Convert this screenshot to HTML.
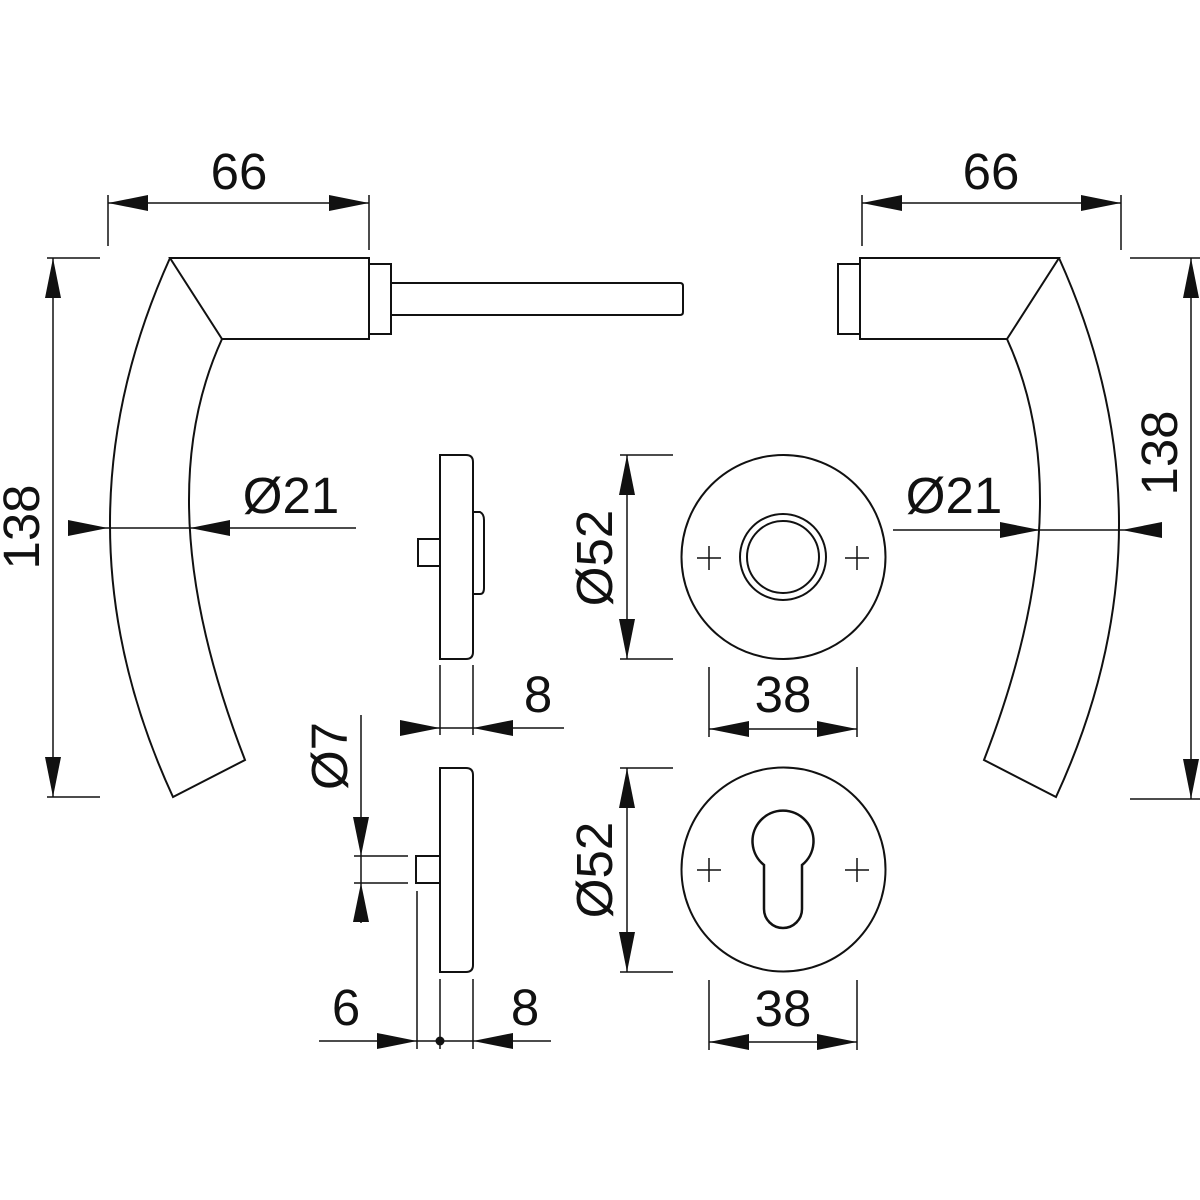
<!DOCTYPE html>
<html><head><meta charset="utf-8"><style>
html,body{margin:0;padding:0;background:#fff;}
svg{display:block;}
text{font-family:"Liberation Sans",sans-serif;font-size:51px;fill:#111;}
</style></head><body>
<svg width="1200" height="1200" viewBox="0 0 1200 1200" xmlns="http://www.w3.org/2000/svg">
<defs>
<g id="handle" fill="none" stroke="#111" stroke-width="2">
  <path d="M170,258 L369,258 L369,339 L222,339 Z" fill="none"/>
  <path d="M170,258 Q48.5,527 173,797 L245,760 Q146,505 222,339"/>
  <rect x="369" y="264" width="22" height="70"/>
</g>
</defs>
<g fill="none" stroke="#111" stroke-width="2">
<use href="#handle"/>
<use href="#handle" transform="translate(1229,0) scale(-1,1)"/>
<path d="M391,283 L680,283 Q683,283 683,286 L683,312 Q683,315 680,315 L391,315"/>
<path d="M440,455 L466,455 Q473,455 473,462 L473,652 Q473,659 466,659 L440,659 Z"/>
<path d="M473,512 L480,512 Q484,514 484,520 L484,588 Q484,594 480,594 L473,594"/>
<path d="M439,539 L418,539 L418,566 L439,566"/>
<path d="M440,768 L466,768 Q473,768 473,775 L473,965 Q473,972 466,972 L440,972 Z"/>
<path d="M440,856 L416,856 L416,883 L440,883"/>
<circle cx="783.5" cy="557" r="102"/>
<circle cx="783" cy="557" r="43"/>
<circle cx="783" cy="557" r="36"/>
<circle cx="783.5" cy="869.5" r="102"/>
<path d="M764,880 L764,865 A30.5,30.5 0 1 1 802,865 L802,909 A19,19 0 0 1 764,909 Z" stroke-width="2.5"/>
</g>
<g stroke="#111" stroke-width="1.5" fill="none">
<path d="M697,558 H721 M709,546 V570 M845,558 H869 M857,546 V570"/>
<path d="M697,870 H721 M709,858 V882 M845,870 H869 M857,858 V882"/>
<path d="M108,195 V246 M369,195 V250 M108,203 H369"/>
<path d="M862,195 V246 M1121,195 V250 M862,203 H1121"/>
<path d="M47,258 H100 M47,797 H100 M53,258 V797"/>
<path d="M1130,258 H1200 M1130,799 H1200 M1191,258 V799"/>
<path d="M68,528 H356"/>
<path d="M893,530 H1162"/>
<path d="M620,455 H673 M620,659 H673 M627,455 V659"/>
<path d="M620,768 H673 M620,972 H673 M627,768 V972"/>
<path d="M709,667 V737 M857,667 V737 M709,729 H857"/>
<path d="M709,980 V1050 M857,980 V1050 M709,1042 H857"/>
<path d="M440,665 V735 M473,665 V735 M400,728 H564"/>
<path d="M361,715 V923 M354,856 H408 M354,883 H408"/>
<path d="M417,891 V1049 M440,979 V1049 M473,979 V1049 M319,1041 H551"/>
</g>
<g fill="#111" stroke="none">
<polygon points="108,203 148,195 148,211"/><polygon points="369,203 329,195 329,211"/>
<polygon points="862,203 902,195 902,211"/><polygon points="1121,203 1081,195 1081,211"/>
<polygon points="53,258 45,298 61,298"/><polygon points="53,797 45,757 61,757"/>
<polygon points="1191,258 1183,298 1199,298"/><polygon points="1191,799 1183,759 1199,759"/>
<polygon points="108,528 68,520 68,536"/><polygon points="190,528 230,520 230,536"/>
<polygon points="1040,530 1000,522 1000,538"/><polygon points="1122,530 1162,522 1162,538"/>
<polygon points="627,455 619,495 635,495"/><polygon points="627,659 619,619 635,619"/>
<polygon points="627,768 619,808 635,808"/><polygon points="627,972 619,932 635,932"/>
<polygon points="709,729 749,721 749,737"/><polygon points="857,729 817,721 817,737"/>
<polygon points="709,1042 749,1034 749,1050"/><polygon points="857,1042 817,1034 817,1050"/>
<polygon points="440,728 400,720 400,736"/><polygon points="473,728 513,720 513,736"/>
<polygon points="361,856 353,817 369,817"/><polygon points="361,883 353,922 369,922"/>
<polygon points="417,1041 377,1033 377,1049"/><polygon points="473,1041 513,1033 513,1049"/>
<circle cx="440" cy="1041" r="4.5"/>
</g>
<g>
<text x="239" y="189" text-anchor="middle">66</text>
<text x="991" y="189" text-anchor="middle">66</text>
<text x="291" y="513" text-anchor="middle">Ø21</text>
<text x="954" y="513" text-anchor="middle">Ø21</text>
<text transform="translate(39,527) rotate(-90)" text-anchor="middle">138</text>
<text transform="translate(1177,453) rotate(-90)" text-anchor="middle">138</text>
<text transform="translate(612,558) rotate(-90)" text-anchor="middle">Ø52</text>
<text transform="translate(612,870) rotate(-90)" text-anchor="middle">Ø52</text>
<text transform="translate(347,756) rotate(-90)" text-anchor="middle">Ø7</text>
<text x="783" y="712" text-anchor="middle">38</text>
<text x="783" y="1026" text-anchor="middle">38</text>
<text x="538" y="712" text-anchor="middle">8</text>
<text x="525" y="1025" text-anchor="middle">8</text>
<text x="346" y="1025" text-anchor="middle">6</text>
</g>
</svg>
</body></html>
